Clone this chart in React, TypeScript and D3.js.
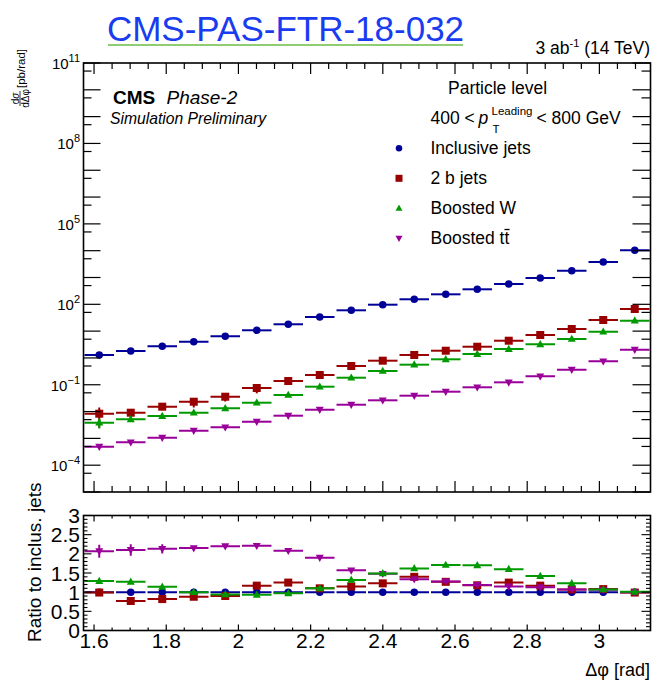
import React from "react";
import * as d3 from "d3";

const W = 653;
const H = 680;
const FONT = "'Liberation Sans', Arial, Helvetica, sans-serif";

// 18 bins of width pi/36 between pi/2 and pi
const N_BINS = 18;
const PHI_MIN = Math.PI / 2;
const PHI_MAX = Math.PI;

// dsigma/dDeltaphi [pb/rad]
const inclusiveJets = [1.29, 1.82, 2.72, 4.03, 6.41, 10.7, 18.0, 33.7, 59.8, 96.8, 154, 236, 363, 572, 958, 1795, 3785, 10330];
const twoBJets = [0.00832, 0.00907, 0.0152, 0.0233, 0.0358, 0.0757, 0.138, 0.231, 0.5, 0.789, 1.29, 1.86, 2.62, 4.39, 7.16, 12.0, 26.0, 66.8];
const boostedW = [0.00385, 0.00514, 0.00682, 0.00907, 0.0132, 0.0214, 0.0415, 0.0846, 0.183, 0.326, 0.56, 0.889, 1.4, 2.15, 3.23, 5.09, 9.52, 24.5];
const boostedTT = [0.000489, 0.000714, 0.00106, 0.00193, 0.00259, 0.00419, 0.00701, 0.0117, 0.018, 0.0263, 0.0391, 0.0551, 0.0804, 0.123, 0.207, 0.365, 0.75, 2.03];

// statistical uncertainties (same units)
const twoBJetsErr = [0.0058, 0.003, 0.004, 0.009, 0.012, 0.028, 0.03, 0.03, 0.05, 0, 0, 0, 0, 0, 0, 0, 0, 0];
const boostedWErr = [0.0015, 0.001, 0, 0, 0, 0, 0, 0, 0, 0, 0, 0, 0, 0, 0, 0, 0, 0];

// shape ratios to inclusive jets
const ratioInclusive = [1, 1, 1, 1, 1, 1, 1, 1, 1, 1, 1, 1, 1, 1, 1, 1, 1, 1];
const ratioTwoB = [0.99, 0.77, 0.82, 0.88, 0.9, 1.17, 1.25, 1.1, 1.15, 1.23, 1.4, 1.27, 1.18, 1.25, 1.17, 1.07, 1.08, 0.99];
const ratioW = [1.29, 1.27, 1.14, 1.0, 0.94, 0.93, 0.97, 1.1, 1.32, 1.49, 1.62, 1.71, 1.7, 1.6, 1.42, 1.23, 1.07, 1.01];
const ratioTT = [2.07, 2.1, 2.13, 2.15, 2.2, 2.21, 2.08, 1.9, 1.57, 1.48, 1.34, 1.28, 1.19, 1.15, 1.13, 1.07, 1.06, 1.0];
const ratioTTErr = [0.17, 0.15, 0.12, 0.05, 0, 0, 0, 0, 0, 0, 0, 0, 0, 0, 0, 0, 0, 0];

const xTickLabels = ["1.6", "1.8", "2", "2.2", "2.4", "2.6", "2.8", "3"];
const ratioTickLabels = ["0", "0.5", "1", "1.5", "2", "2.5", "3"];
const logLabelExps = [11, 8, 5, 2, -1, -4];

type Shape = "circle" | "square" | "tup" | "tdown";

const series: { name: string; color: string; shape: Shape; values: number[]; err: number[]; ratio: number[]; ratioErr: number[] }[] = [
  { name: "Inclusive jets", color: "#000099", shape: "circle", values: inclusiveJets, err: [], ratio: ratioInclusive, ratioErr: [] },
  { name: "2 b jets", color: "#990000", shape: "square", values: twoBJets, err: twoBJetsErr, ratio: ratioTwoB, ratioErr: [] },
  { name: "Boosted tt", color: "#990099", shape: "tdown", values: boostedTT, err: [], ratio: ratioTT, ratioErr: ratioTTErr },
  { name: "Boosted W", color: "#009900", shape: "tup", values: boostedW, err: boostedWErr, ratio: ratioW, ratioErr: [] },
];
const legendOrder = [0, 1, 3, 2];

// frames
const TOP = { l: 83.5, r: 650.5, t: 63, b: 492 };
const BOT = { l: 83.5, r: 650.5, t: 515.5, b: 630.5 };

const xs = d3.scaleLinear().domain([PHI_MIN, PHI_MAX]).range([TOP.l, TOP.r]);
const ys = d3.scaleLog().domain([1e-5, 1e11]).range([TOP.b, TOP.t]);
const yr = d3.scaleLinear().domain([0, 3]).range([BOT.b, BOT.t]);

const binW = (PHI_MAX - PHI_MIN) / N_BINS;
const binLo = (i: number) => PHI_MIN + i * binW;
const binHi = (i: number) => PHI_MIN + (i + 1) * binW;
const binC = (i: number) => PHI_MIN + (i + 0.5) * binW;

function Marker({ shape, x, y, color, s }: { shape: Shape; x: number; y: number; color: string; s: number }) {
  if (shape === "circle") return <circle cx={x} cy={y} r={s / 2} fill={color} />;
  if (shape === "square") return <rect x={x - s / 2} y={y - s / 2} width={s} height={s} fill={color} />;
  const h = s * 0.9;
  if (shape === "tup")
    return <polygon points={`${x},${y - h * 0.6} ${x - s / 2},${y + h * 0.4} ${x + s / 2},${y + h * 0.4}`} fill={color} />;
  return <polygon points={`${x},${y + h * 0.6} ${x - s / 2},${y - h * 0.4} ${x + s / 2},${y - h * 0.4}`} fill={color} />;
}

function xTicks(yBase: number, dir: number, major: number, minor: number) {
  const out: JSX.Element[] = [];
  for (let i = 32; i <= 62; i++) {
    const v = i / 20;
    const len = i % 4 === 0 ? major : minor;
    const x = xs(v);
    out.push(<line key={`${yBase}-${i}`} x1={x} x2={x} y1={yBase} y2={yBase + dir * len} stroke="#000" strokeWidth={1.2} />);
  }
  return out;
}

export default function App() {
  const logTicks: JSX.Element[] = [];
  for (let k = -5; k <= 11; k++) {
    const y = ys(Math.pow(10, k));
    logTicks.push(<line key={`l${k}`} x1={TOP.l} x2={TOP.l + 17} y1={y} y2={y} stroke="#000" strokeWidth={1.2} />);
    logTicks.push(<line key={`r${k}`} x1={TOP.r} x2={TOP.r - 18} y1={y} y2={y} stroke="#000" strokeWidth={1.2} />);
    if (k < 11) {
      const y5 = ys(5 * Math.pow(10, k));
      logTicks.push(<line key={`l5${k}`} x1={TOP.l} x2={TOP.l + 8} y1={y5} y2={y5} stroke="#000" strokeWidth={1.2} />);
      logTicks.push(<line key={`r5${k}`} x1={TOP.r} x2={TOP.r - 9} y1={y5} y2={y5} stroke="#000" strokeWidth={1.2} />);
    }
  }

  const ratioTicks: JSX.Element[] = [];
  for (let i = 0; i <= 30; i++) {
    const y = yr(i / 10);
    const major = i % 5 === 0;
    ratioTicks.push(<line key={`rl${i}`} x1={BOT.l} x2={BOT.l + (major ? 8 : 4)} y1={y} y2={y} stroke="#000" strokeWidth={1.1} />);
    ratioTicks.push(<line key={`rr${i}`} x1={BOT.r} x2={BOT.r - (major ? 9 : 4.5)} y1={y} y2={y} stroke="#000" strokeWidth={1.1} />);
  }

  const topMarks = series.map((s, si) => (
    <g key={`top${si}`}>
      {s.values.map((v, i) => {
        const x = xs(binC(i));
        const y = ys(v);
        const e = s.err[i] || 0;
        return (
          <g key={i}>
            <line x1={xs(binLo(i)) + 1} x2={xs(binHi(i)) - 1} y1={y} y2={y} stroke={s.color} strokeWidth={2} />
            {e > 0 && (
              <line x1={x} x2={x} y1={ys(v + e)} y2={ys(Math.max(v - e, 1e-6))} stroke={s.color} strokeWidth={2} />
            )}
            <Marker shape={s.shape} x={x} y={y} color={s.color} s={s.shape === "circle" ? 7.5 : 8} />
          </g>
        );
      })}
    </g>
  ));

  const ratioMarks = series.map((s, si) => (
    <g key={`rat${si}`}>
      {s.ratio.map((v, i) => {
        const x = xs(binC(i));
        const y = yr(v);
        const e = s.ratioErr[i] || 0;
        return (
          <g key={i}>
            <line x1={xs(binLo(i)) + 1} x2={xs(binHi(i)) - 1} y1={y} y2={y} stroke={s.color} strokeWidth={2} />
            {e > 0 && <line x1={x} x2={x} y1={yr(v + e)} y2={yr(v - e)} stroke={s.color} strokeWidth={2} />}
            <Marker shape={s.shape} x={x} y={y} color={s.color} s={s.shape === "circle" ? 7.5 : 8} />
          </g>
        );
      })}
    </g>
  ));

  const legendY = [148.3, 178.3, 208.3, 238.3];

  return (
    <svg width={W} height={H} style={{ position: "absolute", left: 0, top: 0, background: "#fff" }} fontFamily={FONT}>
      <rect x={0} y={0} width={W} height={H} fill="#fff" />
      {/* header */}
      <text x={285.5} y={41} textAnchor="middle" fontSize={35} fill="#1a3cf0">CMS-PAS-FTR-18-032</text>
      <line x1={108} x2={463} y1={45} y2={45} stroke="#8fcc72" strokeWidth={2} />
      <text x={650} y={54} textAnchor="end" fontSize={17.5} fill="#000">
        3 ab<tspan dy={-7} fontSize={11}>-1</tspan><tspan dy={7} fontSize={17.5}> (14 TeV)</tspan>
      </text>

      {/* upper panel */}
      <defs>
        <clipPath id="clipTop"><rect x={TOP.l} y={TOP.t} width={TOP.r - TOP.l} height={TOP.b - TOP.t} /></clipPath>
        <clipPath id="clipBot"><rect x={BOT.l} y={BOT.t} width={BOT.r - BOT.l} height={BOT.b - BOT.t} /></clipPath>
      </defs>
      <g clipPath="url(#clipTop)">{topMarks}</g>
      {logTicks}
      {xTicks(TOP.b, -1, 11, 6)}
      {xTicks(TOP.t, 1, 11, 6)}
      <rect x={TOP.l} y={TOP.t} width={TOP.r - TOP.l} height={TOP.b - TOP.t} fill="none" stroke="#000" strokeWidth={1.6} />
      {logLabelExps.map((k) => (
        <text key={k} x={80} y={ys(Math.pow(10, k)) + 6} textAnchor="end" fontSize={15}>
          10<tspan dy={-7} fontSize={11}>{k < 0 ? `\u2212${-k}` : `${k}`}</tspan>
        </text>
      ))}
      {/* y title */}
      <g transform="translate(20,106) rotate(-90)">
        <text x={7.5} y={-1.5} textAnchor="middle" fontSize={10}>d<tspan fontStyle="italic">σ</tspan></text>
        <line x1={0} x2={15} y1={0} y2={0} stroke="#000" strokeWidth={0.8} />
        <text x={7.5} y={8.5} textAnchor="middle" fontSize={10}>dΔφ</text>
        <text x={18} y={4.5} fontSize={11.5}>[pb/rad]</text>
      </g>

      {/* CMS label */}
      <text x={113} y={104} fontSize={19} fontWeight="bold">CMS</text>
      <text x={166.5} y={104} fontSize={19} fontStyle="italic">Phase-2</text>
      <text x={110} y={124} fontSize={15.7} fontStyle="italic">Simulation Preliminary</text>

      {/* legend */}
      <text x={448} y={94} fontSize={17.5}>Particle level</text>
      <text x={430.5} y={124} fontSize={17.5}>400 &lt;</text>
      <text x={478.5} y={124} fontSize={17.5} fontStyle="italic">p</text>
      <text x={491.5} y={115} fontSize={11.5}>Leading</text>
      <text x={492.5} y={133} fontSize={11.5}>T</text>
      <text x={536.5} y={124} fontSize={17.5}>&lt; 800 GeV</text>
      {legendOrder.map((si, j) => {
        const s = series[si];
        const y = legendY[j];
        return (
          <g key={`lg${si}`}>
            <Marker shape={s.shape} x={399} y={y} color={s.color} s={s.shape === "circle" ? 6.5 : 7} />
            <text x={430.5} y={y + 6} fontSize={17.5}>{s.name}</text>
          </g>
        );
      })}
      <line x1={504.5} x2={509.5} y1={229.5} y2={229.5} stroke="#000" strokeWidth={1.3} />

      {/* ratio panel */}
      <g clipPath="url(#clipBot)">{ratioMarks}</g>
      {ratioTicks}
      {xTicks(BOT.b, -1, 6, 3)}
      {xTicks(BOT.t, 1, 6, 3)}
      <rect x={BOT.l} y={BOT.t} width={BOT.r - BOT.l} height={BOT.b - BOT.t} fill="none" stroke="#000" strokeWidth={1.6} />
      {ratioTickLabels.map((t) => (
        <text key={t} x={80} y={yr(+t) + 7.5} textAnchor="end" fontSize={21}>{t}</text>
      ))}
      {xTickLabels.map((t) => (
        <text key={t} x={xs(+t)} y={648} textAnchor="middle" fontSize={21}>{t}</text>
      ))}
      <text transform="translate(41,642) rotate(-90)" fontSize={19}>Ratio to inclus. jets</text>
      <text x={650} y={676} textAnchor="end" fontSize={18}>Δφ [rad]</text>
    </svg>
  );
}
